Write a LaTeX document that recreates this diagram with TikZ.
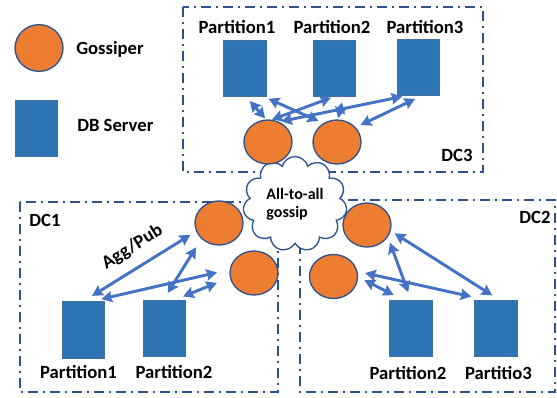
\documentclass[tikz,border=0pt]{standalone}
\usepackage{fontspec}
\setmainfont{Carlito}
\usepackage{tikz}
\usetikzlibrary{arrows.meta,shapes.geometric,shapes.symbols}

\definecolor{gosorange}{RGB}{237,125,49}
\definecolor{gosedge}{RGB}{47,82,143}
\definecolor{srvblue}{RGB}{46,117,182}
\definecolor{srvedge}{RGB}{65,113,156}
\definecolor{linkblue}{RGB}{68,114,196}
\definecolor{boxblue}{RGB}{47,82,143}

\tikzset{
  gossiper/.style={ellipse, draw=gosedge, line width=1pt, fill=gosorange,
    minimum width=36pt, minimum height=33pt, inner sep=0pt},
  server/.style={rectangle, draw=srvedge, line width=0.75pt, fill=srvblue,
    minimum width=32pt, minimum height=42.5pt, inner sep=0pt},
  dcbox/.style={draw=boxblue, line width=1.5pt,
    dash pattern=on 7.5pt off 3.75pt on 1.5pt off 3.75pt},
  link/.style={draw=linkblue, line width=2.2pt, <->,
    >={Stealth[length=8pt,width=8.5pt,inset=1pt]}},
  txt/.style={font=\bfseries\fontsize{14}{16}\selectfont, inner sep=0pt},
}

\begin{document}
\begin{tikzpicture}[x=0.75pt,y=-0.75pt]
    \useasboundingbox (0,0) rectangle (557,397);

    % Legend
    \node[gossiper, minimum height=35pt] (lgos) at (39,48) {};
    \node[txt, anchor=west] (lgostxt) at (76,49) {Gossiper};
    \node[server] (lsrv) at (36.5,128.5) {};
    \node[txt, anchor=west] (lsrvtxt) at (77,125) {DB Server};

    % Data centre boxes
    \draw[dcbox] (183,7) rectangle (483,172);
    \draw[dcbox] (20,202) rectangle (278,392);
    \draw[dcbox] (300,200) rectangle (555,392);
    \node[txt] (dc3) at (457,155) {DC3};
    \node[txt] (dc1) at (45,220) {DC1};
    \node[txt] (dc2) at (535,217) {DC2};

    % Cloud between the data centres
    \node[cloud, cloud puffs=11, draw=gosedge, line width=1pt, fill=white,
      minimum width=78pt, minimum height=58pt, inner sep=0pt, align=left,
      font=\bfseries\fontsize{12}{13.5}\selectfont] (cloud) at (295,204) {All-to-all\\gossip};

    % DC3
    \node[server] (c3p1) at (245,68.5) {};
    \node[server] (c3p2) at (334.5,68.5) {};
    \node[server] (c3p3) at (418.5,67.5) {};
    \node[txt] (c3t1) at (237,27) {Partition1};
    \node[txt] (c3t2) at (332,27) {Partition2};
    \node[txt] (c3t3) at (425,27) {Partition3};
    \node[gossiper] (c3g1) at (268,142) {};
    \node[gossiper] (c3g2) at (337,142) {};
    \draw[link, shorten <=3.75pt, shorten >=1pt] (c3p1.-87) -- (c3g1.95);
    \draw[link, shorten <=2.7pt, shorten >=4pt] (c3p1.-55) -- (c3g2.126);
    \draw[link, shorten <=0.75pt, shorten >=0pt] (c3p2.-95) -- (c3g1.80);
    \draw[link, shorten <=4pt, shorten >=1pt] (c3p2.-73) -- (c3g2.88);
    \draw[link, shorten <=0.75pt, shorten >=1.6pt] (c3p3.-118) -- (c3g1.61);
    \draw[link, shorten <=4.5pt, shorten >=4pt] (c3p3.-86) -- (c3g2.38);

    % DC1
    \node[server] (c1p1) at (83.5,330) {};
    \node[server] (c1p2) at (164.5,328.5) {};
    \node[txt] (c1t1) at (78.5,372) {Partition1};
    \node[txt] (c1t2) at (174,372) {Partition2};
    \node[gossiper] (c1g1) at (219,223) {};
    \node[gossiper] (c1g2) at (254,273) {};
    \draw[link, shorten <=7.5pt, shorten >=5pt] (c1p1.north)
      -- node[txt, sloped, above=8pt, pos=0.53] (aggpub) {Agg/Pub} (c1g1.200);
    \draw[link, shorten <=7pt, shorten >=9.7pt] (c1p1.73) -- (c1g2.172);
    \draw[link, shorten <=6pt, shorten >=7.5pt] (c1p2.92) -- (c1g1.222);
    \draw[link, shorten <=6.5pt, shorten >=10.5pt] (c1p2.70) -- (c1g2.191);

    % DC2
    \node[server] (c2p2) at (411,328.5) {};
    \node[server] (c2p3) at (496,328.5) {};
    \node[txt] (c2t2) at (408,373) {Partition2};
    \node[txt] (c2t3) at (498.5,373) {Partitio3};
    \node[gossiper] (c2g1) at (367,225) {};
    \node[gossiper] (c2g2) at (333.5,276.5) {};
    \draw[link, shorten <=6pt, shorten >=3.4pt] (c2p3.84) -- (c2g1.-14);
    \draw[link, shorten <=6pt, shorten >=4.5pt] (c2p2.north) -- (c2g1.-30);
    \draw[link, shorten <=10.5pt, shorten >=5.8pt] (c2p3.111) -- (c2g2.12);
    \draw[link, shorten <=7.5pt, shorten >=5.2pt] (c2p2.106) -- (c2g2.-1);
\end{tikzpicture}
\end{document}
